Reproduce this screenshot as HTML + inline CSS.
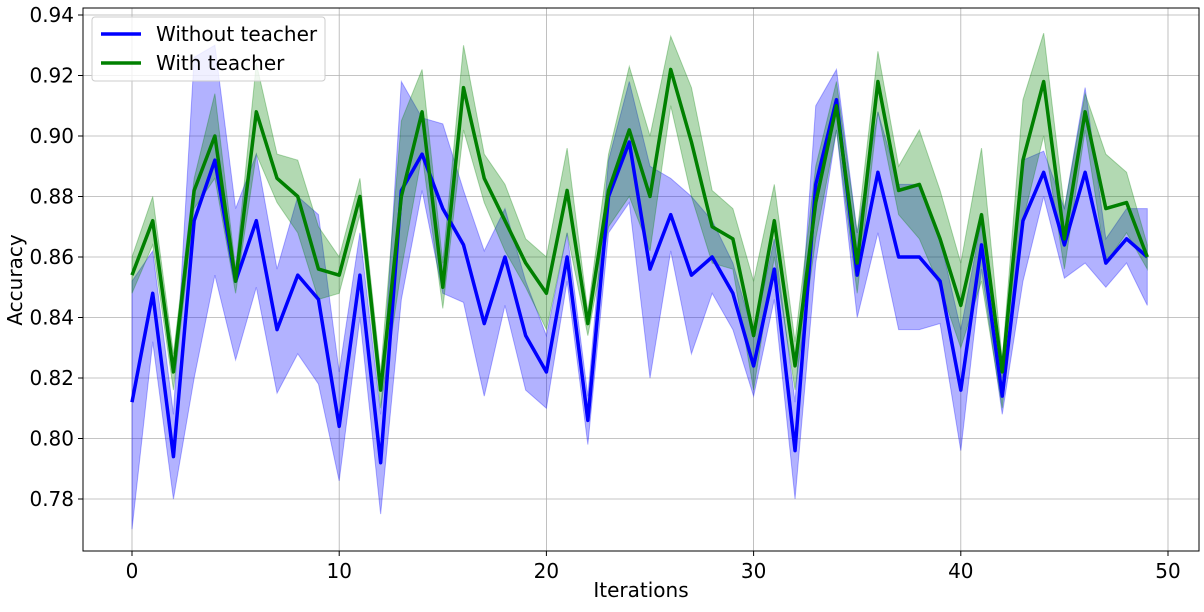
<!DOCTYPE html>
<html><head><meta charset="utf-8">
<style>
body{margin:0;background:#fff;}
svg text{font-family:"DejaVu Sans","Liberation Sans",sans-serif;fill:#000;}
</style></head>
<body>
<svg id="chart" width="1204" height="607" xmlns="http://www.w3.org/2000/svg">
<g id="grid"></g>
<g id="bands"></g>
<g id="lines"></g>
<rect x="83" y="8" width="1116" height="543" fill="none" stroke="#000" stroke-width="1"/>
<g id="ticks"></g>
<text x="641" y="597" font-size="20" text-anchor="middle">Iterations</text>
<text transform="translate(22,280) rotate(-90)" font-size="20" text-anchor="middle">Accuracy</text>
<g>
<rect x="92" y="17" width="233" height="64" rx="3" fill="#fff" fill-opacity="0.8" stroke="#ccc"/>
<line x1="101" y1="34" x2="141" y2="34" stroke="#0000ff" stroke-width="3.5"/>
<text x="156" y="41" font-size="20">Without teacher</text>
<line x1="101" y1="63" x2="141" y2="63" stroke="#008000" stroke-width="3.5"/>
<text x="156" y="70" font-size="20">With teacher</text>
</g>
</svg>
<script>
const blueMean=[0.812,0.848,0.794,0.872,0.892,0.852,0.872,0.836,0.854,0.846,0.804,0.854,0.792,0.882,0.894,0.876,0.864,0.838,0.860,0.834,0.822,0.860,0.806,0.880,0.898,0.856,0.874,0.854,0.860,0.848,0.824,0.856,0.796,0.884,0.912,0.854,0.888,0.860,0.860,0.852,0.816,0.864,0.814,0.872,0.888,0.864,0.888,0.858,0.866,0.860];
const greenMean=[0.854,0.872,0.822,0.882,0.900,0.852,0.908,0.886,0.880,0.856,0.854,0.880,0.816,0.880,0.908,0.850,0.916,0.886,0.872,0.858,0.848,0.882,0.838,0.882,0.902,0.880,0.922,0.898,0.870,0.866,0.834,0.872,0.824,0.878,0.910,0.858,0.918,0.882,0.884,0.866,0.844,0.874,0.822,0.892,0.918,0.866,0.908,0.876,0.878,0.860];
const blueUpper=[0.852,0.862,0.808,0.926,0.930,0.876,0.894,0.856,0.880,0.874,0.822,0.868,0.808,0.918,0.906,0.904,0.882,0.862,0.876,0.852,0.834,0.868,0.814,0.892,0.918,0.890,0.886,0.880,0.872,0.858,0.834,0.866,0.812,0.910,0.922,0.868,0.908,0.884,0.884,0.866,0.836,0.872,0.820,0.892,0.895,0.876,0.916,0.866,0.876,0.876];
const blueLower=[0.770,0.832,0.780,0.820,0.854,0.826,0.850,0.815,0.828,0.818,0.786,0.840,0.775,0.846,0.882,0.848,0.845,0.814,0.844,0.816,0.810,0.852,0.798,0.868,0.878,0.820,0.862,0.828,0.848,0.836,0.814,0.846,0.780,0.858,0.902,0.840,0.868,0.836,0.836,0.838,0.796,0.856,0.808,0.852,0.880,0.853,0.858,0.850,0.858,0.844];
const greenUpper=[0.860,0.880,0.828,0.886,0.914,0.856,0.924,0.894,0.892,0.870,0.860,0.886,0.822,0.905,0.922,0.858,0.930,0.894,0.884,0.866,0.860,0.896,0.842,0.894,0.923,0.900,0.933,0.916,0.882,0.876,0.852,0.884,0.832,0.890,0.918,0.868,0.928,0.890,0.902,0.882,0.858,0.896,0.826,0.912,0.934,0.876,0.914,0.894,0.888,0.864];
const greenLower=[0.848,0.864,0.816,0.876,0.886,0.848,0.894,0.878,0.868,0.846,0.848,0.874,0.810,0.856,0.894,0.843,0.902,0.878,0.862,0.850,0.836,0.868,0.834,0.870,0.880,0.862,0.910,0.880,0.858,0.856,0.816,0.860,0.816,0.866,0.902,0.848,0.908,0.874,0.866,0.850,0.830,0.852,0.810,0.872,0.900,0.856,0.902,0.858,0.868,0.856];
const xTicks=[0,10,20,30,40,50];
const yTicks=[0.78,0.80,0.82,0.84,0.86,0.88,0.90,0.92,0.94];

const NS="http://www.w3.org/2000/svg";
const L=83,R=1199,T=8,B=551;
const sx=v=>132+v*20.72;
const sy=v=>438.5-(v-0.80)/0.02*60.5;
function mk(tag,attrs,parent){const e=document.createElementNS(NS,tag);for(const k in attrs)e.setAttribute(k,attrs[k]);parent.appendChild(e);return e;}
const grid=document.getElementById('grid'),ticks=document.getElementById('ticks'),bands=document.getElementById('bands'),lines=document.getElementById('lines');
xTicks.forEach(t=>{const x=sx(t);
 const g=mk('line',{x1:x,x2:x,y1:T,y2:B,stroke:'#b0b0b0','stroke-width':0.8},grid);
 
 
 mk('line',{x1:x,x2:x,y1:B,y2:B+5,stroke:'#000'},ticks);
 const tx=mk('text',{x:x,y:B+27,'font-size':20,'text-anchor':'middle'},ticks);tx.textContent=t;
 
 
});
yTicks.forEach(t=>{const y=sy(t);
 const g=mk('line',{x1:L,x2:R,y1:y,y2:y,stroke:'#b0b0b0','stroke-width':0.8},grid);
 
 
 mk('line',{x1:L-5,x2:L,y1:y,y2:y,stroke:'#000'},ticks);
 const tx=mk('text',{x:L-9,y:y+7,'font-size':20,'text-anchor':'end'},ticks);tx.textContent=t.toFixed(2);
 
 
});
function band(up,lo,color,name){
 let d=up.map((v,i)=>(i?'L':'M')+sx(i)+','+sy(v)).join('');
 for(let i=lo.length-1;i>=0;i--)d+='L'+sx(i)+','+sy(lo[i]);
 const p=mk('path',{d:d+'Z',fill:color,'fill-opacity':0.3,stroke:color,'stroke-opacity':0.3},bands);
 
 
}
function line(arr,color,name){
 const d=arr.map((v,i)=>(i?'L':'M')+sx(i)+','+sy(v)).join('');
 const p=mk('path',{d:d,fill:'none',stroke:color,'stroke-width':3.5,'stroke-linejoin':'round'},lines);
 
 
}
band(blueUpper,blueLower,'#0000ff','without-teacher-band');
band(greenUpper,greenLower,'#008000','with-teacher-band');
line(blueMean,'#0000ff','without-teacher-line');
line(greenMean,'#008000','with-teacher-line');
</script>
</body></html>
